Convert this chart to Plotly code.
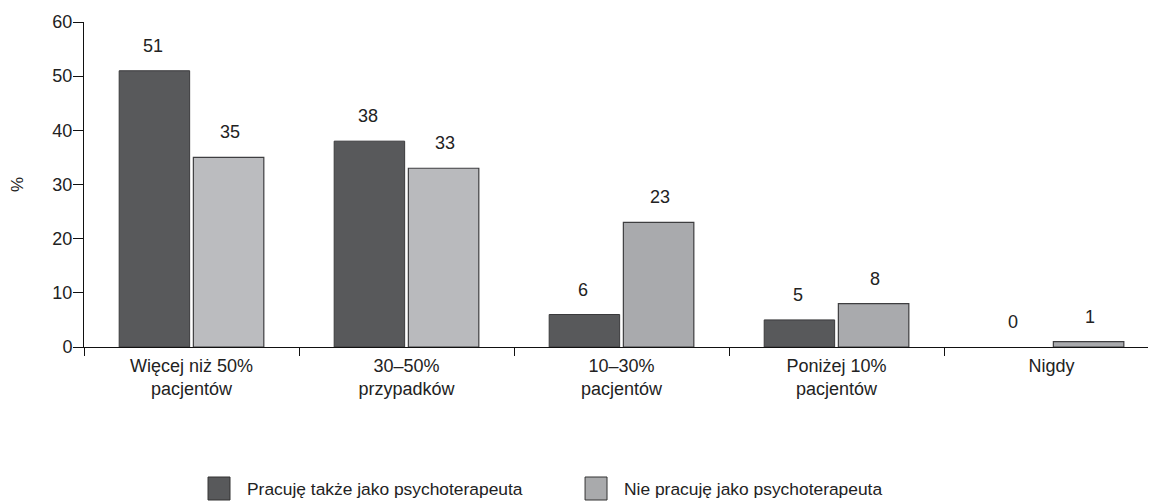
import plotly.graph_objects as go

categories = ["Więcej niż 50%<br>pacjentów", "30–50%<br>przypadków", "10–30%<br>pacjentów",
              "Poniżej 10%<br>pacjentów", "Nigdy"]
therapist = [51, 38, 6, 5, 0]
non_therapist = [35, 33, 23, 8, 1]
series_names = ["Pracuję także jako psychoterapeuta", "Nie pracuję jako psychoterapeuta"]

font_family = "Liberation Sans, Arial, sans-serif"
dark = "#58595b"
light = ["#bbbcbf", "#b9babd", "#a9aaad", "#a9aaad", "#a9aaad"]
legend_light = "#a9aaac"

xs = list(range(len(categories)))

fig = go.Figure()
fig.add_trace(go.Bar(
    x=xs, y=therapist, name=series_names[0], showlegend=False,
    marker=dict(color=dark, line=dict(color="#3a3a3c",
                                      width=[0 if v == 0 else 1 for v in therapist])),
))
fig.add_trace(go.Bar(
    x=xs, y=non_therapist, name=series_names[1], showlegend=False,
    marker=dict(color=light, line=dict(color="#3e3e40",
                                       width=[0 if v == 0 else 1.2 for v in non_therapist])),
))

# value labels above bars
for i in xs:
    for val, off in ((therapist[i], -0.18), (non_therapist[i], 0.18)):
        fig.add_annotation(x=i + off, y=val, text=str(val), showarrow=False,
                           yshift=25, font=dict(size=18, color="#222"))

# legend drawn below the plot
legend_items = [(series_names[0], dark, 0.1157), (series_names[1], legend_light, 0.4674)]
for name, col, x0 in legend_items:
    fig.add_shape(type="rect", xref="paper", yref="paper",
                  x0=x0, x1=x0 + 0.0205, y0=-0.4708, y1=-0.40,
                  fillcolor=col, line=dict(color="#333", width=1))
    fig.add_annotation(xref="paper", yref="paper", x=x0 + 0.0345, y=-0.437,
                       xanchor="left", yanchor="middle", showarrow=False,
                       text=name, font=dict(size=17.4, color="#222"))

# page body adds an 8px margin, so the figure is 8px smaller than the window
fig.update_layout(
    width=1148, height=493,
    margin=dict(l=76, r=0, t=14, b=154, autoexpand=False),
    plot_bgcolor="white", paper_bgcolor="white",
    font=dict(family=font_family, size=18, color="#222"),
    barmode="group", bargap=0.31, bargroupgap=0.05,
    showlegend=False,
    xaxis=dict(
        range=[-0.5, 4.486], automargin=False,
        tickmode="array", tickvals=xs, ticktext=categories,
        ticks="", ticklabelstandoff=2, showline=True, linecolor="#111", linewidth=1,
        showgrid=False, zeroline=False, tickfont=dict(size=18),
        minor=dict(tickmode="array", tickvals=[-0.5, 0.5, 1.5, 2.5, 3.5],
                   ticks="outside", ticklen=8, tickcolor="#111", showgrid=False),
    ),
    yaxis=dict(
        range=[0, 60], tickvals=[0, 10, 20, 30, 40, 50, 60], automargin=False,
        ticks="outside", ticklen=10, tickcolor="#111", ticklabelstandoff=-3,
        showline=True, linecolor="#111", linewidth=1,
        showgrid=False, zeroline=False, tickfont=dict(size=18),
        title=dict(text="%", font=dict(size=17), standoff=25),
    ),
)

fig.write_html("out.html")
